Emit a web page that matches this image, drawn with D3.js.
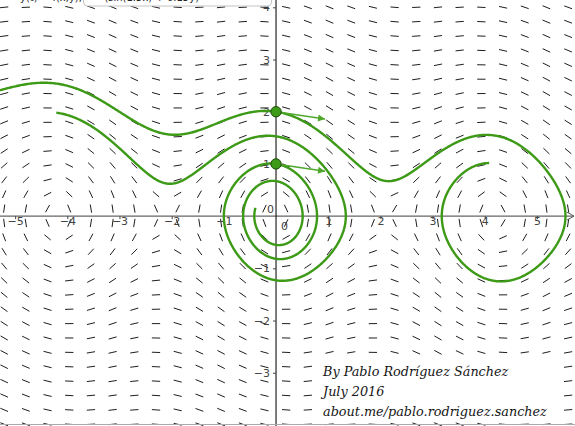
<!DOCTYPE html>
<html><head><meta charset="utf-8">
<script src="https://cdn.jsdelivr.net/npm/d3@7"></script>
<style>html,body{margin:0;padding:0;background:#fff;overflow:hidden}</style>
</head><body>
<svg id="c" width="575" height="426"></svg>
<script>
const W = 575, H = 426;
const xDomain = [-5.29, 5.73];
const yDomain = [-4.02, 4.14];
const xTicks = [-5, -4, -3, -2, -1, 1, 2, 3, 4, 5];
const yTicks = [-3, -2, -1, 1, 2, 3, 4];
// model:  x' = y ,  y' = -gain*sin(freq*x) - damping*y
const gain = 1.0, freq = 1.5, damping = 0.15;
const initialPoints = [[0, 2], [0, 1]];
const forwardTime = [10, 9.75];
const backwardTime = [10, 10.2];
const fieldCols = d3.range(27).map(i => -5.21 + i * 0.4157);
const fieldRows = d3.range(30).map(j => 4.0 - j * 0.2754);
const headerLeft = "y(t) = f(x,y),";
const headerBox = "−(sin(1.5x) + 0.15y)";
const creditLines = ["By Pablo Rodríguez Sánchez", "July 2016", "about.me/pablo.rodriguez.sanchez"];

const svg = d3.select("#c");
const x = d3.scaleLinear().domain(xDomain).range([0, W]);
const y = d3.scaleLinear().domain(yDomain).range([H, 0]);
const green = "#3d9a17", arrowGreen = "#4fa82c";
const fmt = d => d3.format("d")(d).replace("-", "−");

function deriv(p) { return [p[1], -gain * Math.sin(freq * p[0]) - damping * p[1]]; }
function integrate(p0, T, dt) {
  const pts = [p0.slice()]; let p = p0.slice();
  const n = Math.round(Math.abs(T / dt));
  for (let i = 0; i < n; i++) {
    const k1 = deriv(p);
    const k2 = deriv([p[0] + dt/2*k1[0], p[1] + dt/2*k1[1]]);
    const k3 = deriv([p[0] + dt/2*k2[0], p[1] + dt/2*k2[1]]);
    const k4 = deriv([p[0] + dt*k3[0], p[1] + dt*k3[1]]);
    p = [p[0] + dt/6*(k1[0]+2*k2[0]+2*k3[0]+k4[0]), p[1] + dt/6*(k1[1]+2*k2[1]+2*k3[1]+k4[1])];
    pts.push(p);
  }
  return pts;
}

// slope field
const seg = 4.15;
const field = svg.append("g").attr("stroke", "#1e1e1e").attr("stroke-width", 1);
fieldCols.forEach(fx => fieldRows.forEach(fy => {
  const d = deriv([fx, fy]);
  const vx = d[0] * (x(1) - x(0)), vy = d[1] * (y(1) - y(0));
  const L = Math.hypot(vx, vy) || 1;
  const cx = x(fx), cy = y(fy);
  field.append("line").attr("x1", cx - vx/L*seg).attr("y1", cy - vy/L*seg)
    .attr("x2", cx + vx/L*seg).attr("y2", cy + vy/L*seg);
}));

// axes
svg.append("line").attr("x1", 0).attr("x2", W - 1).attr("y1", y(0)).attr("y2", y(0)).attr("stroke", "#666").attr("stroke-width", 1.1);
svg.append("path").attr("d", `M${W-8},${y(0)-4} L${W-1},${y(0)} L${W-8},${y(0)+4}`).attr("fill", "none").attr("stroke", "#555");
svg.append("line").attr("x1", x(0)).attr("x2", x(0)).attr("y1", 0).attr("y2", H).attr("stroke", "#111").attr("stroke-width", 1.1);
const gx = svg.append("g").attr("transform", `translate(0,${y(0)})`)
  .call(d3.axisBottom(x).tickValues(xTicks).tickSize(3).tickFormat(fmt));
gx.select(".domain").remove();
gx.selectAll("text").attr("font-family", "DejaVu Sans").attr("font-size", 11).attr("fill", "#444").attr("dy", "0.3em");
gx.selectAll("line").attr("stroke", "#444");
const gy = svg.append("g").attr("transform", `translate(${x(0)},0)`)
  .call(d3.axisLeft(y).tickValues(yTicks).tickSize(3).tickFormat(fmt));
gy.select(".domain").remove();
gy.selectAll("text").attr("font-family", "DejaVu Sans").attr("font-size", 11).attr("fill", "#444");
gy.selectAll("line").attr("stroke", "#444");
svg.append("text").attr("x", x(0) - 9).attr("y", y(0) - 3).attr("font-family", "DejaVu Sans").attr("font-size", 11).attr("fill", "#444").text("0");
svg.append("text").attr("x", x(0) + 5).attr("y", y(0) + 14).attr("font-family", "DejaVu Sans").attr("font-size", 11).attr("fill", "#444").text("0");

// trajectories
const line = d3.line().x(d => x(d[0])).y(d => y(d[1]));
initialPoints.forEach((p, i) => {
  const f = integrate(p, forwardTime[i], 0.01);
  const b = integrate(p, -backwardTime[i], -0.01);
  const all = b.reverse().concat(f.slice(1));
  svg.append("path").attr("d", line(all)).attr("fill", "none").attr("stroke", green).attr("stroke-width", 2.4);
});
// velocity arrows
svg.append("defs").append("marker").attr("id", "ah").attr("viewBox", "0 0 10 10").attr("refX", 10).attr("refY", 5)
  .attr("markerWidth", 12).attr("markerHeight", 7).attr("markerUnits", "userSpaceOnUse").attr("orient", "auto")
  .append("path").attr("d", "M0,0 L10,5 L0,10 z").attr("fill", arrowGreen);
initialPoints.forEach(p => {
  const d = deriv(p); const L = Math.hypot(d[0], d[1]);
  svg.append("line").attr("x1", x(p[0])).attr("y1", y(p[1]))
    .attr("x2", x(p[0] + d[0]/L*0.95)).attr("y2", y(p[1] + d[1]/L*0.95))
    .attr("stroke", arrowGreen).attr("stroke-width", 1.5).attr("marker-end", "url(#ah)");
});
initialPoints.forEach(p => {
  svg.append("circle").attr("cx", x(p[0])).attr("cy", y(p[1])).attr("r", 5.2)
    .attr("fill", green).attr("stroke", "#1d4a08").attr("stroke-width", 1);
});

// header (cut by the top edge, as in the picture)
svg.append("text").attr("x", 20).attr("y", 0.5).attr("font-family", "DejaVu Sans").attr("font-size", 10).attr("fill", "#222").text(headerLeft);
svg.append("rect").attr("x", 83.5).attr("y", -20).attr("width", 188).attr("height", 26).attr("rx", 4)
  .attr("fill", "#fff").attr("stroke", "#c4c4c4");
svg.append("text").attr("x", 96).attr("y", 0.5).attr("font-family", "DejaVu Sans").attr("font-size", 10).attr("fill", "#222").text(headerBox);

// credits
svg.append("rect").attr("x", 316).attr("y", 361).attr("width", 235).attr("height", 61).attr("fill", "#fff");
creditLines.forEach((t, i) => svg.append("text").attr("x", 323).attr("y", 376 + i * 20)
  .attr("font-family", "DejaVu Serif").attr("font-style", "italic").attr("font-size", 12.8).attr("fill", "#151515").text(t));
svg.append("line").attr("x1", 0).attr("x2", W).attr("y1", 424.5).attr("y2", 424.5).attr("stroke", "#aaa");
</script>
</body></html>
